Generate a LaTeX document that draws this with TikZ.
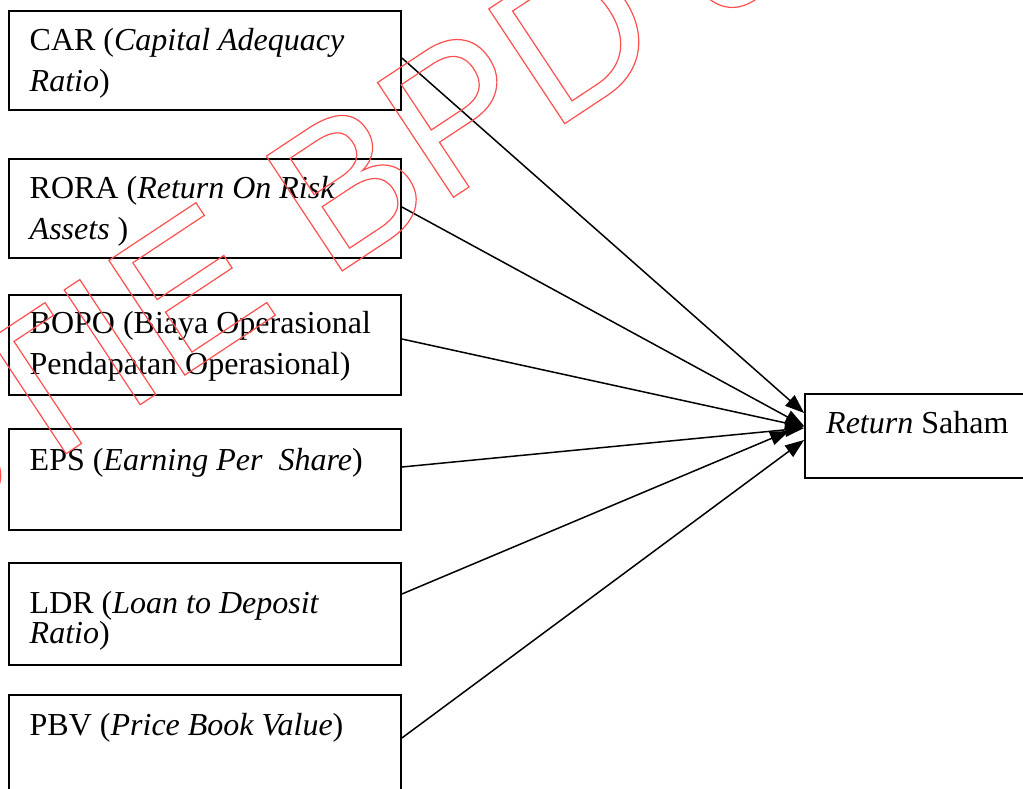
\documentclass[tikz,border=0pt]{standalone}
\usepackage{fontspec}
\setmainfont{Liberation Serif}
\newfontfamily\wmfont{Liberation Sans}
\usetikzlibrary{arrows.meta}
\definecolor{wmred}{RGB}{255,80,80}
\begin{document}
\begin{tikzpicture}[x=1pt,y=-1pt,
  box/.style={draw, line width=1.8pt, inner sep=0pt, minimum width=392pt},
  lbl/.style={anchor=base west, inner sep=0pt, font=\fontsize{32}{40}\selectfont},
  link/.style={line width=1.5pt, -{Triangle[length=19pt,width=14pt]}},
  wm/.style={anchor=base west, inner sep=0pt, rotate=33.5, text=wmred,
    font=\wmfont\fontsize{200}{200}\selectfont,
    execute at begin node={\special{pdf:literal direct q 1 Tr 1.2 w}},
    execute at end node={\special{pdf:literal direct Q}}},
  ]
\useasboundingbox (0,0) rectangle (1023,789);
\fill[white] (0,0) rectangle (1023,789);

% indicator boxes
\node[box, minimum height=99pt]  (car)  at (205,60.5)  {};
\node[box, minimum height=99pt]  (rora) at (205,208.5) {};
\node[box, minimum height=100pt] (bopo) at (205,345)   {};
\node[box, minimum height=101pt] (eps)  at (205,479.5) {};
\node[box, minimum height=102pt] (ldr)  at (205,614)   {};
\node[box, minimum height=101pt] (pbv)  at (205,745.5) {};
\node[box, minimum width=225pt, minimum height=84pt] (ret) at (917.5,436) {};

% labels
\node[lbl] (car1)  at (29.5,51)  {CAR (\textit{Capital Adequacy}};
\node[lbl] (car2)  at (29.5,92)  {\textit{Ratio})};
\node[lbl] (rora1) at (29.5,198) {RORA (\textit{Return On Risk}};
\node[lbl] (rora2) at (29.5,239) {\textit{Assets} )};
\node[lbl] (bopo1) at (29.5,333) {BOPO (Biaya Operasional};
\node[lbl] (bopo2) at (29.5,374) {Pendapatan Operasional)};
\node[lbl] (eps1)  at (29.5,470) {EPS (\textit{Earning Per~~Share})};
\node[lbl] (ldr1)  at (29.5,613) {LDR (\textit{Loan to Deposit}};
\node[lbl] (ldr2)  at (29.5,643) {\textit{Ratio})};
\node[lbl] (pbv1)  at (29.5,735) {PBV (\textit{Price Book Value})};
\node[lbl] (ret1)  at (826,433)  {\textit{Return} Saham};

% connectors
\draw[link] ([yshift=2.5pt]car.east)  -- ([yshift=23pt]ret.west);
\draw[link] ([yshift=1.5pt]rora.east) -- ([yshift=10pt]ret.west);
\draw[link] ([yshift=6pt]bopo.east)   -- ([yshift=9pt]ret.west);
\draw[link] ([yshift=12.5pt]eps.east) -- ([yshift=8pt]ret.west);
\draw[link] ([yshift=20pt]ldr.east)   -- ([xshift=-15pt,yshift=5pt]ret.west);
\draw[link] ([yshift=7.5pt]pbv.east)  -- ([yshift=-4pt]ret.west);

% watermark
\node[wm] (mark) at (-88.5,556) {STIE BPD JATENG};
\end{tikzpicture}
\end{document}
